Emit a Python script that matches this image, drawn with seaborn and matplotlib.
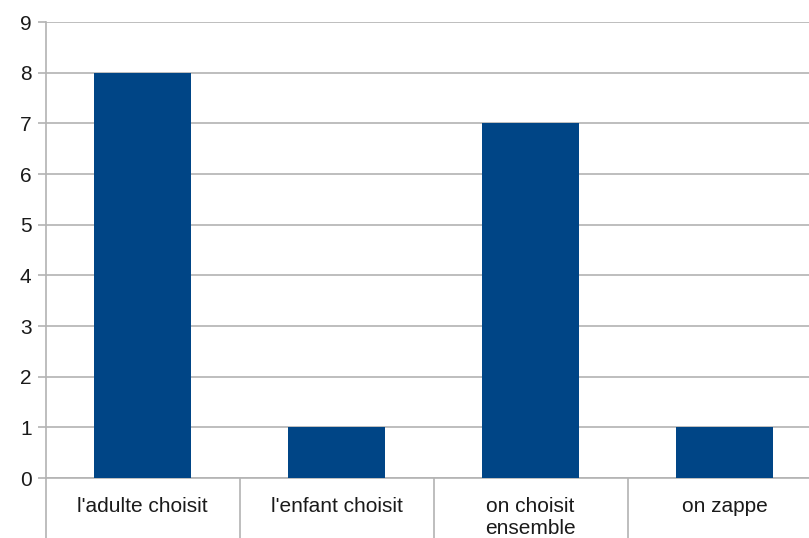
import matplotlib
matplotlib.use('Agg')
import matplotlib.pyplot as plt
import seaborn as sns
import pandas as pd

categories = ["l'adulte choisit", "l'enfant choisit", "on choisit\nensemble", "on zappe"]
values = [8, 1, 7, 1]

BAR = "#004586"
GRID = "#b3b3b3"

sns.set_style("white")
plt.rcParams['font.family'] = ['Liberation Sans', 'DejaVu Sans']

df = pd.DataFrame({"cat": categories, "val": values})

fig = plt.figure(figsize=(8.09, 5.38), dpi=100)
ax = fig.add_axes([45.5 / 809, 1 - 478 / 538, 776 / 809, 456 / 538])

sns.barplot(data=df, x="cat", y="val", color=BAR, width=0.5, saturation=1,
            linewidth=0, edgecolor="none", ax=ax, zorder=3)

ax.set_xlim(-0.5, 3.5)
ax.set_ylim(0, 9)
ax.set_yticks(range(0, 10))
ax.yaxis.grid(True, color=GRID, linewidth=1.2, zorder=0)
ax.set_axisbelow(True)
ax.set_xlabel("")
ax.set_ylabel("")

for s in ["top", "right"]:
    ax.spines[s].set_visible(False)
for s in ["left", "bottom"]:
    ax.spines[s].set_color(GRID)
    ax.spines[s].set_linewidth(1.2)

ax.tick_params(axis="y", left=True, length=6, width=1.2, color=GRID, labelsize=15, pad=4, labelcolor="#1a1a1a")
ax.tick_params(axis="x", which="major", length=0, labelsize=15, pad=14, labelcolor="#1a1a1a")
for lab in ax.get_xticklabels():
    lab.set_linespacing(1.2)
ax.set_xticks([-0.5, 0.5, 1.5, 2.5], minor=True)
ax.tick_params(axis="x", which="minor", bottom=True, length=44, width=1.2, color=GRID)

fig.savefig("out.png", dpi=100, facecolor="white")
